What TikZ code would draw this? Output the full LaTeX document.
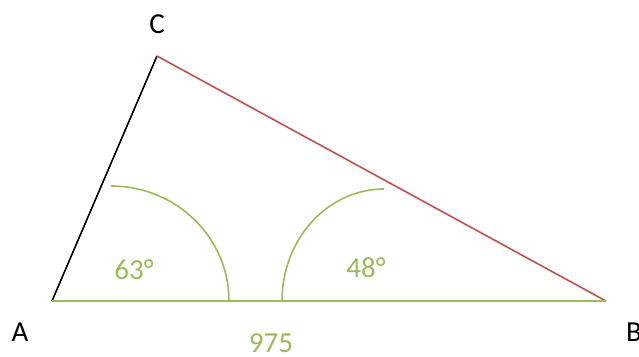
\documentclass[tikz,border=0pt]{standalone}
\usepackage{fontspec}
\setmainfont{Carlito}
\definecolor{officegreen}{HTML}{9BBB59}
\definecolor{officered}{HTML}{C0504D}

\begin{document}
\begin{tikzpicture}[x=1pt,y=-1pt,line width=1.6pt,
  every node/.style={inner sep=0pt,font=\fontsize{29}{33}\selectfont}]
\useasboundingbox (0,0) rectangle (639,356);
\coordinate (A) at (52,301);
\coordinate (B) at (606,301);
\coordinate (C) at (157,56);
\draw[black] (A) -- (C);
\draw[officered] (C) -- (B);
\draw[officegreen] (A) -- (B);
\draw[officegreen] (229,301) arc[start angle=0,end angle=-90,x radius=118,y radius=115];
\draw[officegreen] (282,301) arc[start angle=180,end angle=270,x radius=102,y radius=112];
\foreach \p/\lab in {{(157,24)}/C,{(20,332)}/A,{(634,332)}/B} {
  \node (l\lab) at \p {\lab};
}
\node[text=officegreen] (base) at (271,343) {975};
\node[text=officegreen] (angA) at (134,270) {63°};
\node[text=officegreen] (angB) at (366,268) {48°};
\end{tikzpicture}
\end{document}
